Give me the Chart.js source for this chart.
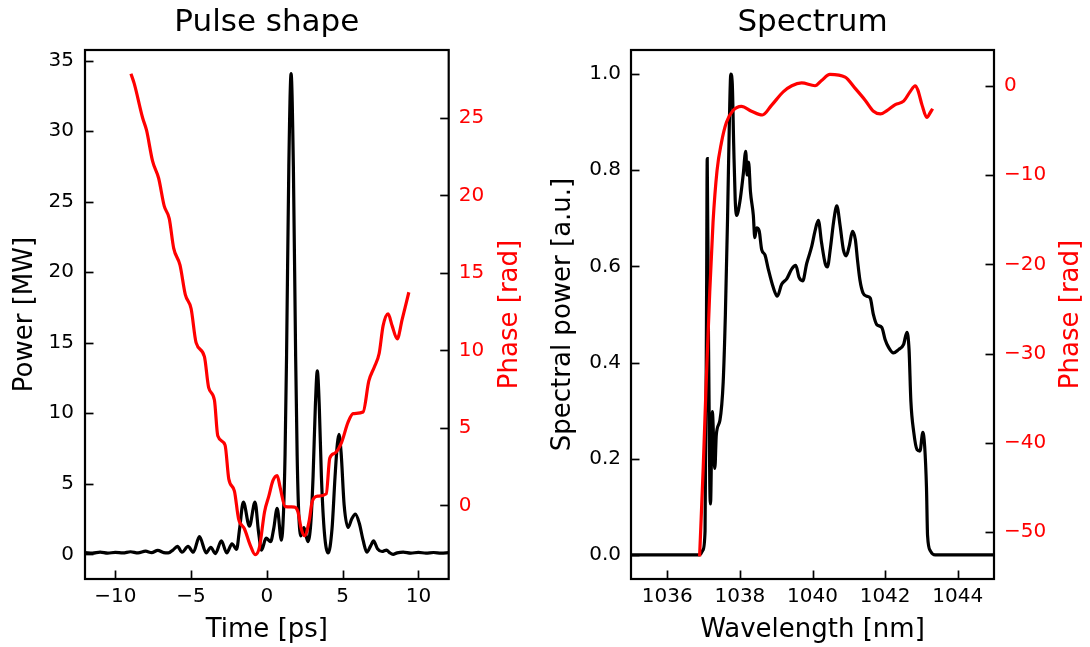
<!DOCTYPE html>
<html>
<head>
<meta charset="utf-8">
<script src="https://cdn.jsdelivr.net/npm/chart.js@4.4.1/dist/chart.umd.min.js"></script>
<style>
  html, body { margin: 0; padding: 0; background: #fff; }
  #wrap { position: relative; width: 1090px; height: 647px; }
  .panel { position: absolute; top: 0; width: 545px; height: 647px; }
</style>
</head>
<body>
<div id="wrap">
  <div class="panel" style="left:0"><canvas id="pulse" width="545" height="647"></canvas></div>
  <div class="panel" style="left:545px"><canvas id="spectrum" width="545" height="647"></canvas></div>
</div>
<script>
// ---- Pulse shape: power vs time ----
const pulseTime = [-12, -11.5, -11, -10.5, -10, -9.5, -9, -8.5, -8, -7.6, -7.2, -6.8, -6.5, -6.2, -5.9, -5.6,
  -5.2, -4.85, -4.45, -4.0, -3.7, -3.4, -3.0, -2.65, -2.3, -2.0, -1.8, -1.55, -1.15, -0.78, -0.55, -0.35,
  -0.05, 0.25, 0.45, 0.68, 0.96, 1.1, 1.2, 1.3, 1.45, 1.6, 1.75, 1.9, 2.0, 2.1, 2.25, 2.45, 2.7, 2.9,
  3.05, 3.2, 3.33, 3.46, 3.6, 3.8, 4.05, 4.3, 4.5, 4.65, 4.76, 4.9, 5.1, 5.36, 5.6, 5.84, 6.1, 6.35,
  6.6, 6.85, 7.04, 7.3, 7.6, 7.9, 8.1, 8.33, 8.6, 9, 9.5, 10, 10.5, 11, 11.5, 12];
const pulsePower = [0.12, 0.08, 0.15, 0.08, 0.14, 0.1, 0.18, 0.1, 0.22, 0.12, 0.28, 0.12, 0.1, 0.3, 0.56, 0.15,
  0.56, 0.15, 1.25, 0.1, 0.5, 0.05, 0.95, 0.1, 0.75, 0.35, 1.8, 3.7, 2.0, 3.7, 1.6, 0.3,
  1.15, 0.9, 1.8, 3.25, 1.0, 3.0, 7.0, 14.0, 27.5, 34.07, 27.5, 14.0, 7.0, 3.0, 1.3, 1.9, 0.9, 2.2,
  5.5, 10.5, 13.0, 10.5, 5.5, 1.5, 0.1, 1.8, 5.5, 7.8, 8.5, 7.2, 3.5, 1.9, 2.5, 2.85, 2.2, 1.0,
  0.15, 0.6, 0.95, 0.4, 0.2, 0.3, 0.12, 0.0, 0.1, 0.15, 0.08, 0.14, 0.08, 0.13, 0.08, 0.12];

// ---- Pulse shape: temporal phase ----
const phaseTime = [-8.97, -8.75, -8.2, -7.94, -7.54, -7.14, -6.77, -6.44, -6.15, -5.73, -5.38, -5.0,
  -4.67, -4.12, -3.84, -3.46, -3.24, -2.76, -2.51, -2.14, -1.87, -1.48, -1.08, -0.77, -0.49, -0.15,
  0.13, 0.4, 0.68, 0.88, 1.21, 1.83, 2.05, 2.27, 2.49, 2.78, 3.0, 3.37, 3.92, 4.15, 4.48, 4.92,
  5.36, 5.69, 6.35, 6.73, 7.08, 7.41, 7.67, 8.0, 8.27, 8.6, 8.93, 9.37];
const phaseTimeRad = [27.84, 27.2, 25.0, 24.2, 22.2, 21.1, 19.3, 18.5, 16.6, 15.5, 13.6, 12.7,
  10.5, 9.6, 7.6, 6.8, 4.5, 3.9, 1.7, 0.93, -0.84, -1.5, -2.6, -3.17, -2.7, -0.4,
  0.6, 1.6, 1.93, 1.15, -0.07, -0.1, -0.4, -1.5, -1.95, -1.06, 0.27, 0.6, 0.75, 3.04, 3.37, 4.04,
  5.37, 5.92, 6.03, 8.03, 8.9, 9.8, 11.58, 12.36, 11.58, 10.74, 12.0, 13.75];

// ---- Spectrum: spectral power vs wavelength ----
const specWl = [1035, 1036.89, 1036.98, 1037.04, 1037.08, 1037.10, 1037.13, 1037.17, 1037.19, 1037.24,
  1037.31, 1037.35, 1037.45, 1037.54, 1037.6, 1037.66, 1037.71, 1037.75, 1037.79, 1037.83, 1037.87,
  1037.91, 1038.0, 1038.09, 1038.16, 1038.2, 1038.24, 1038.29, 1038.37, 1038.41, 1038.46, 1038.53,
  1038.6, 1038.69, 1038.78, 1038.92, 1039.03, 1039.15, 1039.29, 1039.43, 1039.54, 1039.63, 1039.73,
  1039.84, 1039.98, 1040.07, 1040.16, 1040.25, 1040.35, 1040.41, 1040.5, 1040.58, 1040.67, 1040.76,
  1040.85, 1040.93, 1041.02, 1041.1, 1041.18, 1041.24, 1041.31, 1041.39, 1041.5, 1041.59, 1041.68,
  1041.77, 1041.91, 1042.0, 1042.1, 1042.23, 1042.37, 1042.51, 1042.6, 1042.66, 1042.71, 1042.79,
  1042.88, 1042.96, 1043.04, 1043.09, 1043.14, 1043.17, 1043.25, 1043.38, 1045];
const specPower = [0, 0, 0.01, 0.05, 0.5, 0.824, 0.5, 0.15, 0.106, 0.298,
  0.18, 0.25, 0.28, 0.36, 0.5, 0.7, 0.9, 1.0, 0.98, 0.85, 0.74,
  0.706, 0.735, 0.79, 0.839, 0.79, 0.817, 0.756, 0.706, 0.66, 0.68, 0.674,
  0.635, 0.624, 0.595, 0.556, 0.538, 0.563, 0.574, 0.595, 0.602, 0.577, 0.57,
  0.606, 0.642, 0.674, 0.696, 0.649, 0.606, 0.599, 0.642, 0.692, 0.726, 0.685,
  0.635, 0.622, 0.645, 0.673, 0.656, 0.613, 0.57, 0.545, 0.538, 0.534, 0.499,
  0.479, 0.473, 0.448, 0.431, 0.42, 0.427, 0.438, 0.463, 0.427, 0.32, 0.255,
  0.219, 0.216, 0.255, 0.226, 0.14, 0.04, 0.008, 0, 0];

// ---- Spectrum: spectral phase ----
const phaseWl = [1036.89, 1036.99, 1037.08, 1037.17, 1037.26, 1037.37, 1037.49, 1037.63, 1037.81, 1038.04,
  1038.32, 1038.62, 1038.87, 1039.2, 1039.43, 1039.7, 1040.07, 1040.25, 1040.48, 1040.9, 1041.17,
  1041.45, 1041.68, 1041.87, 1042.05, 1042.28, 1042.51, 1042.69, 1042.83, 1042.9, 1043.02, 1043.15,
  1043.25, 1043.31];
const phaseWlRad = [-52.7, -42.7, -32.3, -23.0, -15.3, -9.5, -6.4, -4.1, -2.78, -2.31,
  -2.85, -3.28, -2.2, -0.66, 0, 0.31, 0, 0.58, 1.27, 0.96, -0.27,
  -1.62, -2.85, -3.16, -2.78, -2.12, -1.73, -0.66, 0, -0.46, -2.2, -3.55,
  -2.97, -2.58];

// ---- Tick values ----
const pulseTimeTicks = [-10, -5, 0, 5, 10];
const pulsePowerTicks = [0, 5, 10, 15, 20, 25, 30, 35];
const pulsePhaseTicks = [0, 5, 10, 15, 20, 25];
const wavelengthTicks = [1036, 1038, 1040, 1042, 1044];
const specPowerTicks = [0, 0.2, 0.4, 0.6, 0.8, 1.0];
const specPhaseTicks = [-50, -40, -30, -20, -10, 0];

const FONT = 'DejaVu Sans';
const RED = '#ff0000';
const TICK_LEN = 8.5;
const LINE_W = 3.2;

const pts = (xs, ys) => xs.map((x, i) => ({ x, y: ys[i] }));
const minus = v => String(v).replace('-', '\u2212');

// Inward tick marks, axes frame and all titles
const decorPlugin = {
  id: 'decor',
  afterDraw(chart, args, o) {
    const { ctx, chartArea: a } = chart;
    ctx.save();
    ctx.strokeStyle = '#000';
    ctx.lineWidth = 1.7;
    for (const id of Object.keys(chart.scales)) {
      const s = chart.scales[id];
      for (const t of s.ticks) {
        const p = Math.round(s.getPixelForValue(t.value)) + 0.5;
        ctx.beginPath();
        if (s.isHorizontal()) { ctx.moveTo(p, a.bottom); ctx.lineTo(p, a.bottom - TICK_LEN); }
        else if (s.position === 'left') { ctx.moveTo(a.left, p); ctx.lineTo(a.left + TICK_LEN, p); }
        else { ctx.moveTo(a.right, p); ctx.lineTo(a.right - TICK_LEN, p); }
        ctx.stroke();
      }
    }
    ctx.lineWidth = 2.2;
    ctx.strokeRect(a.left, a.top, a.right - a.left, a.bottom - a.top);

    const text = (txt, x, y, size, color, rot) => {
      ctx.save();
      ctx.translate(x, y);
      if (rot) ctx.rotate(rot);
      ctx.font = `${size}px "${FONT}"`;
      ctx.fillStyle = color;
      ctx.textAlign = 'center';
      ctx.textBaseline = 'middle';
      ctx.fillText(txt, 0, 0);
      ctx.restore();
    };
    const cx = (a.left + a.right) / 2;
    const cy = (a.top + a.bottom) / 2;
    text(o.title, cx, o.titleY, o.titleSize, '#000');
    text(o.xLabel, cx, o.xLabelY, o.labelSize, '#000');
    text(o.yLabel, o.yLabelX, cy, o.labelSize, '#000', -Math.PI / 2);
    text(o.y2Label, o.y2LabelX, cy, o.labelSize, RED, -Math.PI / 2);
    ctx.restore();
  }
};

function linearAxis(position, min, max, tickValues, fmt, color, size, padding) {
  const horizontal = position === 'bottom';
  return {
    type: 'linear',
    position,
    min, max,
    grid: { display: false, drawTicks: false },
    border: { display: false },
    ticks: {
      color,
      padding,
      font: { family: FONT, size: 20 },
      callback: v => fmt(v),
      maxRotation: 0,
      autoSkip: false
    },
    afterBuildTicks: s => { s.ticks = tickValues.map(v => ({ value: v })); },
    afterFit: s => { if (horizontal) s.height = size; else s.width = size; }
  };
}

function panel(id, d) {
  return new Chart(document.getElementById(id), {
    type: 'line',
    data: {
      datasets: [
        { data: d.power, yAxisID: 'y', borderColor: '#000', borderWidth: LINE_W, pointRadius: 0,
          cubicInterpolationMode: 'monotone', fill: false, order: 1 },
        { data: d.phase, yAxisID: 'y2', borderColor: RED, borderWidth: LINE_W, pointRadius: 0,
          cubicInterpolationMode: 'monotone', fill: false, order: 0 }
      ]
    },
    options: {
      responsive: false,
      animation: false,
      devicePixelRatio: 1,
      layout: { padding: { top: 50, left: 0, right: 0, bottom: 0 } },
      plugins: { legend: { display: false }, tooltip: { enabled: false }, decor: d.decor },
      scales: {
        x: d.x,
        y: d.y,
        y2: d.y2
      }
    },
    plugins: [decorPlugin]
  });
}

panel('pulse', {
  power: pts(pulseTime, pulsePower),
  phase: pts(phaseTime, phaseTimeRad),
  x: linearAxis('bottom', -12, 12, pulseTimeTicks, minus, '#000', 68, 6),
  y: linearAxis('left', -1.75, 35.75, pulsePowerTicks, minus, '#000', 85, 11),
  y2: linearAxis('right', -4.74, 29.37, pulsePhaseTicks, minus, RED, 96.3, 10),
  decor: { title: 'Pulse shape', titleY: 23, titleSize: 31, xLabel: 'Time [ps]', xLabelY: 630,
           yLabel: 'Power [MW]', yLabelX: 25, y2Label: 'Phase [rad]', y2LabelX: 510, labelSize: 26 }
});

panel('spectrum', {
  power: pts(specWl, specPower),
  phase: pts(phaseWl, phaseWlRad),
  x: linearAxis('bottom', 1035, 1045, wavelengthTicks, minus, '#000', 68, 6),
  y: linearAxis('left', -0.05, 1.05, specPowerTicks, v => v.toFixed(1), '#000', 86, 10),
  y2: linearAxis('right', -55.23, 4.0, specPhaseTicks, minus, RED, 96, 10),
  decor: { title: 'Spectrum', titleY: 23, titleSize: 31, xLabel: 'Wavelength [nm]', xLabelY: 630,
           yLabel: 'Spectral power [a.u.]', yLabelX: 18, y2Label: 'Phase [rad]', y2LabelX: 526, labelSize: 26 }
});
</script>
</body>
</html>
